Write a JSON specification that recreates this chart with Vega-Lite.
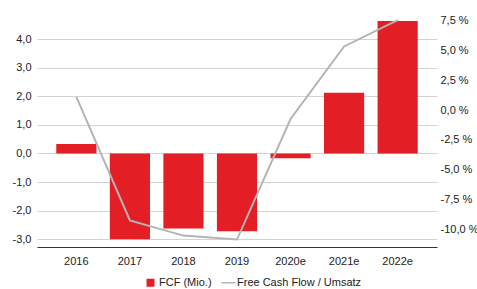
{
  "$schema": "https://vega.github.io/schema/vega-lite/v6.json",
  "autosize": "none",
  "width": 400,
  "height": 232,
  "padding": {"left": 37, "top": 15, "right": 40, "bottom": 42},
  "background": "white",
  "config": {
    "font": "Liberation Sans",
    "view": {"stroke": null},
    "axis": {"labelFont": "Liberation Sans", "labelFontSize": 11, "labelColor": "#222222"},
    "legend": {"labelFont": "Liberation Sans", "labelFontSize": 11, "labelColor": "#222222"}
  },
  "data": {
    "values": [
      {"year": "2016", "fcf": 0.33, "ratio": 1.1, "s1": "FCF (Mio.)", "s2": "Free Cash Flow / Umsatz"},
      {"year": "2017", "fcf": -3.0, "ratio": -9.2, "s1": "FCF (Mio.)", "s2": "Free Cash Flow / Umsatz"},
      {"year": "2018", "fcf": -2.62, "ratio": -10.47, "s1": "FCF (Mio.)", "s2": "Free Cash Flow / Umsatz"},
      {"year": "2019", "fcf": -2.72, "ratio": -10.8, "s1": "FCF (Mio.)", "s2": "Free Cash Flow / Umsatz"},
      {"year": "2020e", "fcf": -0.17, "ratio": -0.75, "s1": "FCF (Mio.)", "s2": "Free Cash Flow / Umsatz"},
      {"year": "2021e", "fcf": 2.12, "ratio": 5.3, "s1": "FCF (Mio.)", "s2": "Free Cash Flow / Umsatz"},
      {"year": "2022e", "fcf": 4.63, "ratio": 7.5, "s1": "FCF (Mio.)", "s2": "Free Cash Flow / Umsatz"}
    ]
  },
  "encoding": {
    "x": {
      "field": "year", "type": "nominal", "sort": null,
      "scale": {"paddingInner": 0.25, "paddingOuter": 0.36},
      "axis": {"title": null, "labelAngle": 0, "ticks": false, "domainColor": "#333333", "domainWidth": 1, "labelPadding": 8, "grid": false}
    }
  },
  "layer": [
    {
      "mark": {"type": "bar", "color": "#E31E24"},
      "encoding": {
        "y": {
          "field": "fcf", "type": "quantitative",
          "scale": {"domain": [-3.27, 4.84], "nice": false, "zero": false},
          "axis": {
            "title": null, "values": [-3, -2, -1, 0, 1, 2, 3, 4],
            "labelExpr": "(datum.value < 0 ? '-' : '') + replace(format(abs(datum.value), '.1f'), '.', ',')",
            "domain": false, "ticks": false, "labelPadding": 6,
            "grid": true, "gridColor": "#D3D3D3", "gridWidth": 1
          }
        },
        "color": {
          "field": "s1", "type": "nominal",
          "scale": {"domain": ["FCF (Mio.)", "Free Cash Flow / Umsatz"], "range": ["#E31E24", "#B4B4B4"]},
          "legend": {
            "title": null, "orient": "none", "direction": "horizontal",
            "legendX": 108, "legendY": 262, "columnPadding": 6, "symbolSize": 64,
            "labelOffset": 3,
            "encode": {
              "symbols": {
                "update": {
                  "shape": {"signal": "datum.value === 'FCF (Mio.)' ? 'square' : 'stroke'"},
                  "fill": {"signal": "datum.value === 'FCF (Mio.)' ? '#E31E24' : 'transparent'"},
                  "stroke": {"signal": "datum.value === 'FCF (Mio.)' ? '#E31E24' : '#B4B4B4'"},
                  "strokeWidth": {"signal": "datum.value === 'FCF (Mio.)' ? 0 : 1.5"},
                  "size": {"signal": "datum.value === 'FCF (Mio.)' ? 64 : 200"}
                }
              }
            }
          }
        }
      }
    },
    {
      "mark": {"type": "line", "color": "#B4B4B4", "strokeWidth": 2},
      "encoding": {
        "y": {
          "field": "ratio", "type": "quantitative",
          "scale": {"domain": [-11.42, 7.92], "nice": false, "zero": false},
          "axis": {
            "title": null, "orient": "right",
            "values": [-10, -7.5, -5, -2.5, 0, 2.5, 5, 7.5],
            "labelExpr": "(datum.value < 0 ? '-' : '') + replace(format(abs(datum.value), '.1f'), '.', ',') + ' %'",
            "domain": false, "ticks": false, "grid": false, "labelPadding": 3,
            "labelAlign": "left"
          }
        },
        "color": {"field": "s2", "type": "nominal", "legend": null}
      }
    }
  ],
  "resolve": {"scale": {"y": "independent"}}
}
